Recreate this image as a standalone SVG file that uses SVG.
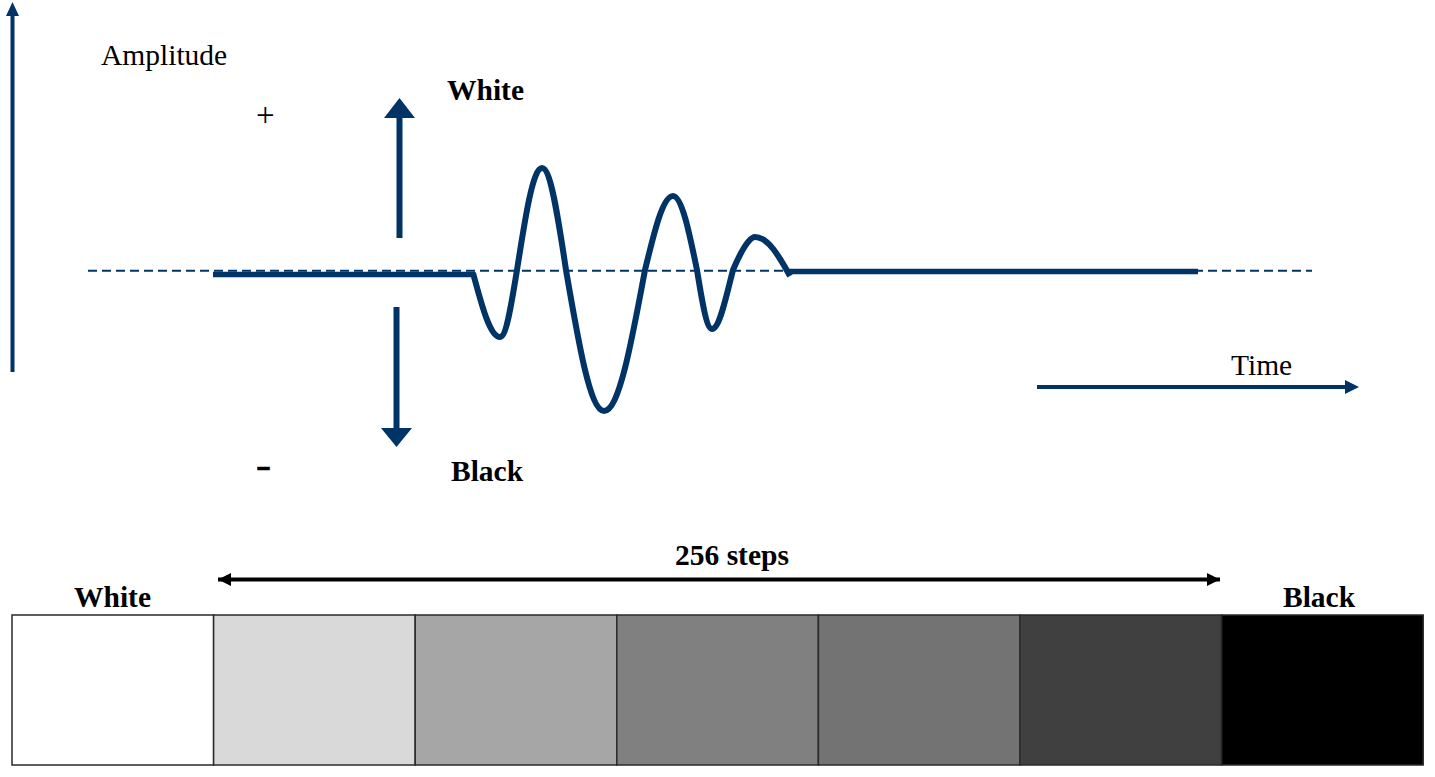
<svg xmlns="http://www.w3.org/2000/svg" width="1435" height="777" viewBox="0 0 1435 777">
<style>
.serif{font-family:"Liberation Serif","Times New Roman",serif;font-size:29.5px;fill:#000}
.bold{font-weight:bold}
.navy{stroke:#003366;fill:none}
.box{stroke:#2a2a2a;stroke-width:1.5}
</style>
<defs>
<marker id="blackHead" viewBox="0 0 10 10" refX="10" refY="5" markerWidth="13" markerHeight="13" markerUnits="userSpaceOnUse" orient="auto-start-reverse" preserveAspectRatio="none">
<path d="M0,0 L10,5 L0,10 Z" fill="#000"/>
</marker>
</defs>
<rect width="1435" height="777" fill="#fff"/>

<g id="axes">
<line x1="12.5" y1="372" x2="12.5" y2="15" class="navy" stroke-width="4"/>
<path d="M6,16 L12.5,2 L19,16 Z" fill="#003366"/>
<line x1="1037" y1="387" x2="1346" y2="387" class="navy" stroke-width="4"/>
<path d="M1345,380 L1359,387 L1345,394 Z" fill="#003366"/>
<line x1="88" y1="270.8" x2="1312" y2="270.8" class="navy" stroke-width="2" stroke-dasharray="9,5"/>
</g>

<g id="labels">
<text class="serif" x="101" y="65">Amplitude</text>
<text class="serif" x="256" y="126" style="font-size:33px">+</text>
<text class="serif bold" x="256" y="477" style="font-size:34px" textLength="15" lengthAdjust="spacingAndGlyphs" stroke="#000" stroke-width="0.6">-</text>
<text class="serif bold" x="447" y="100">White</text>
<text class="serif bold" x="451" y="481">Black</text>
<text class="serif" x="1231" y="375">Time</text>
</g>

<g id="polarity-arrows">
<line x1="399.5" y1="238" x2="399.5" y2="116" class="navy" stroke-width="6"/>
<path d="M384,118 L399.5,98 L415,118 Z" fill="#003366"/>
<line x1="396.5" y1="307" x2="396.5" y2="430" class="navy" stroke-width="6"/>
<path d="M381,428 L396.5,447 L412,428 Z" fill="#003366"/>
</g>

<g id="signal">
<line x1="213" y1="274.5" x2="475" y2="274.5" class="navy" stroke-width="5.5"/>
<path class="navy" stroke-width="6" stroke-linejoin="miter" d="M473,273 C482,306.6 490.2,337 500,337 C506.2,337 511.3,305.2 517,270 C525.4,216.4 532.9,168 542,168 C550.7,168 558,216.5 566,270 C578.7,344 590.2,411 604,411 C618.9,411 631.3,344 645,270 C654.4,231.2 662.8,196 673,196 C681.7,196 689,231.2 697,270 C702,301 706.6,329 712,329 C719.6,329 726,297 733,270 C740.3,252.7 749,237 755,237 C768,237 779,256 790,276"/>
<line x1="789" y1="271.5" x2="1198" y2="271.5" class="navy" stroke-width="5.5"/>
</g>

<g id="scale-arrow">
<line x1="218" y1="579.5" x2="1220" y2="579.5" stroke="#000" stroke-width="4" marker-start="url(#blackHead)" marker-end="url(#blackHead)"/>
<text class="serif bold" x="675" y="565">256 steps</text>
</g>

<g id="grayscale">
<rect id="step1" class="box" x="12" y="615" width="201.6" height="150" fill="#ffffff"/>
<rect id="step2" class="box" x="213.6" y="615" width="201.6" height="150" fill="#d9d9d9"/>
<rect id="step3" class="box" x="415.2" y="615" width="201.6" height="150" fill="#a6a6a6"/>
<rect id="step4" class="box" x="616.8" y="615" width="201.6" height="150" fill="#808080"/>
<rect id="step5" class="box" x="818.4" y="615" width="201.6" height="150" fill="#737373"/>
<rect id="step6" class="box" x="1020" y="615" width="201.6" height="150" fill="#404040"/>
<rect id="step7" class="box" x="1221.6" y="615" width="201.6" height="150" fill="#000000"/>
<text class="serif bold" x="74" y="607">White</text>
<text class="serif bold" x="1283" y="607">Black</text>
</g>
</svg>
